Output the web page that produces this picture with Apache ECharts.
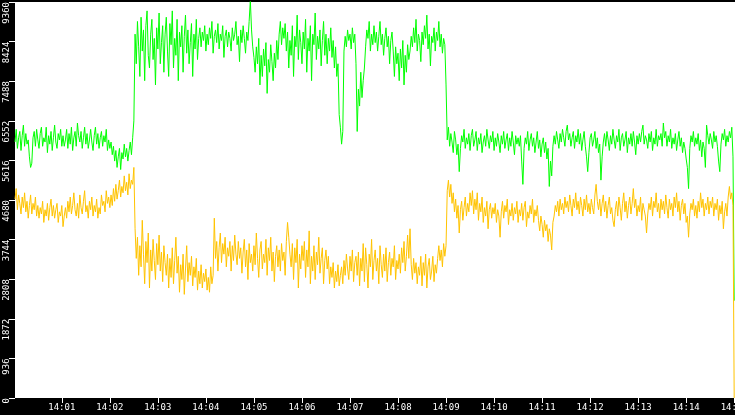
<!DOCTYPE html>
<html>
<head>
<meta charset="utf-8">
<title>chart</title>
<script src="https://cdn.jsdelivr.net/npm/echarts@6.0.0/dist/echarts.min.js"></script>
<style>
    html, body {margin: 0; padding: 0; background: #000;}
    #container {width: 735px; height: 415px;}
</style>
</head>
<body>
<div id="container"></div>
<script>
// seconds after 14:00:00 between two samples
var sampleStep = 1.5;

// y axis ticks
var yTickValues = [0, 936, 1872, 2808, 3744, 4680, 5616, 6552, 7488, 8424, 9360];

// x axis ticks (seconds after 14:00:00) and their labels
var xTickSeconds = [60, 120, 180, 240, 300, 360, 420, 480, 540, 600, 660, 720, 780, 840, 900];
var xTickLabels = ['14:01', '14:02', '14:03', '14:04', '14:05', '14:06', '14:07', '14:08',
    '14:09', '14:10', '14:11', '14:12', '14:13', '14:14', '14:15'];

// green series
var greenValues = [
    6050, 6350, 5900, 6150, 6300, 5850, 6200, 6450, 5950, 6250, 6000, 6100, 5700, 5450, 5550, 6150, 6300, 5950, 6350, 6100,
    5900, 6250, 6400, 5950, 6150, 6050, 6400, 5800, 6200, 6000, 6300, 5850, 6150, 6450, 6050, 5900, 6250, 6100, 6350, 5950,
    6200, 5950, 6100, 6350, 5900, 6250, 6000, 6400, 5850, 6150, 6300, 5950, 6500, 6200, 6050, 6300, 5900, 6150, 6400, 6000,
    6250, 5900, 6100, 6350, 6050, 5850, 6200, 6400, 6000, 6250, 5900, 6150, 6300, 5950, 6200, 6050, 6350, 5850, 6100, 5900,
    6050, 5750, 5950, 5600, 5850, 5450, 5700, 5900, 5400, 5800, 5650, 6000, 5700, 5900, 5600, 5850, 6050, 5750, 6150, 6550,

    8600, 7900, 8900, 8300, 7600, 9000, 8200, 8700, 7500, 8800, 9150, 8100, 7800, 8600, 8950, 8000, 8500, 7400, 8750, 8250,
    9100, 7900, 8400, 8800, 7700, 8600, 9000, 8200, 7600, 8850, 8350, 9150, 7800, 8500, 8100, 8950, 7500, 8650, 8300, 8800,
    7700, 8550, 9050, 8150, 8700, 7900, 8400, 8850, 7600, 8600, 8250, 8950, 8000, 8500, 8750, 8300, 8650, 8450, 8800, 8200,
    8600, 8350, 8750, 8500, 8900, 8150, 8550, 8700, 8400, 8850, 8250, 8600, 8450, 8800, 8050, 8550, 8700, 8300, 8650, 8500,
    8200, 8750, 8450, 8600, 8900, 8350, 8550, 7950, 8700, 8400, 8800, 8500, 8150, 8650, 8450, 8900, 9400, 8700, 8300, 8050,
    7700, 8300, 7900, 8500, 7400, 8100, 7600, 8250, 7850, 8400, 7200, 8000, 7700, 8350, 7950, 7500, 8150, 7800, 8450, 8000,
    8600, 8900, 8350, 8750, 8500, 8850, 8200, 8650, 7800, 8450, 8100, 8800, 7600, 8550, 8300, 9050, 8000, 8700, 8400, 7900,
    8650, 8250, 8950, 7700, 8500, 8200, 8800, 7500, 8600, 8350, 9100, 8000, 8550, 8250, 8700, 7850, 8450, 8900, 8100, 8600,
    7900, 8500, 8200, 8750, 8050, 8450, 7800, 8300, 7600, 7900, 6700, 6400, 6000, 6300, 8200, 8550, 8300, 8700, 8450, 8600,
    8250, 8750, 8400, 8600, 7900, 6300, 7300, 6900, 7700, 7100, 7500, 7800, 8300, 8700, 8500, 8900, 8200, 8600, 8350, 8800,
    8400, 8650, 8200, 8550, 8900, 8350, 8600, 8100, 8500, 8750, 8300, 8550, 7900, 8450, 8650, 8200, 7600, 8300, 7900, 8150,
    7500, 8250, 7800, 8450, 7400, 8100, 7700, 8350, 8000, 8200, 8550, 8300, 8750, 8400, 8950, 8200, 8600, 8450, 7950, 8650,
    8350, 8800, 8500, 9050, 8250, 8600, 7850, 8550, 8400, 8750, 8200, 8650, 8450, 8900, 8300, 8600, 8150, 8500, 8350, 7400,

    6100, 6400, 5950, 6250, 6050, 5800, 6300, 6100, 5750, 6000, 5350, 5900, 6200, 6050, 6350, 5900, 6150, 6000, 6250, 5850,
    6200, 6350, 5950, 6100, 6300, 5850, 6150, 6000, 6250, 5800, 6050, 6200, 5950, 6350, 6100, 5900, 6200, 6050, 6300, 5850,
    6150, 5950, 6250, 6050, 5800, 6200, 6000, 6300, 5900, 6100, 6250, 5850, 6150, 5950, 6300, 6050, 5750, 6200, 6000, 6150,
    5950, 6200, 5600, 5050, 5900, 6150, 6000, 6300, 5850, 6100, 6250, 5950, 6150, 5800, 6050, 6300, 5900, 6100, 5700, 6000,
    6150, 5800, 6050, 5650, 5900, 5000, 5600, 5250, 5950, 6200, 6000, 6300, 6100, 5900, 6250, 6050, 6350, 6150, 5950, 6300,
    6450, 6100, 6250, 5950, 6150, 6300, 5900, 6200, 6050, 6350, 6000, 6250, 5850, 6100, 6300, 5950, 5700, 5350, 5800, 6150,
    6250, 5950, 6100, 6300, 5900, 6150, 5800, 6000, 5150, 5700, 6050, 6250, 5950, 6300, 6100, 5850, 6200, 6000, 6350, 6100,
    5900, 6200, 6050, 6350, 5850, 6150, 6250, 5950, 6100, 6300, 5800, 6150, 6000, 6250, 5950, 6300, 6050, 5750, 6200, 6000,
    6250, 6050, 6300, 6450, 6000, 6200, 6100, 5900, 6250, 6050, 6300, 5850, 6150, 6000, 6350, 5950, 6200, 6100, 6250, 5950,
    6500, 6150, 6300, 5950, 6200, 6050, 6350, 5900, 6150, 6000, 6250, 5850, 6100, 6300, 5950, 6150, 5800, 6050, 5900, 5650,
    5450, 4950, 5900, 6200, 6050, 6300, 5950, 6150, 6000, 6250, 5850, 6100, 5700, 6050, 5900, 5450, 6450, 6200, 6000, 6250,
    6100, 5900, 6300, 6050, 6200, 5950, 5600, 5350, 6000, 6250, 6100, 6350, 5950, 6200, 6050, 6300, 6150, 6400, 5700, 2300
];

// yellow series
var yellowValues = [
    4700, 4950, 4450, 4800, 4600, 4350, 4750, 4500, 4850, 4400, 4650, 4250, 4550, 4800, 4350, 4600, 4450, 4750, 4300, 4550,
    4250, 4500, 4350, 4650, 4150, 4450, 4300, 4600, 4200, 4500, 4700, 4300, 4550, 4250, 4450, 4600, 4150, 4400, 4300, 4550,
    4050, 4300, 4500, 4250, 4650, 4400, 4750, 4350, 4550, 4850, 4450, 4300, 4600, 4250, 4800, 4500, 4350, 4650, 4900, 4400,
    4550, 4250, 4650, 4450, 4750, 4300, 4550, 4400, 4700, 4250, 4500, 4350, 4800, 4550, 4650, 4400, 4900, 4600, 4750, 4500,
    4800, 4550, 4950, 4650, 5050, 4700, 4900, 5150, 4750, 5000, 4850, 5250, 4900, 5100, 4800, 5300, 4950, 5150, 5050, 5450,

    4000, 3300, 3800, 2900, 3600, 3100, 4200, 3400, 2700, 3700, 3200, 3900, 2600, 3500, 3000, 3750, 3250, 2800, 3650, 3150,
    3850, 3000, 3450, 2750, 3600, 3200, 2900, 3400, 2600, 3300, 2850, 3550, 2700, 3250, 3800, 2950, 3350, 2500, 3150, 2800,
    3400, 2450, 3050, 3600, 2750, 3200, 2900, 3350, 2650, 3100, 2850, 3300, 2550, 3000, 2700, 3150, 2600, 2950, 2750, 3050,
    2550, 2850, 2500, 3100, 2700, 2900, 4250, 3300, 3700, 3000, 3550, 3900, 3200, 3650, 3400, 3800, 3100, 3550, 3350, 3700,
    3000, 3600, 3250, 3850, 3400, 3150, 3700, 3300, 3550, 2950, 3450, 3750, 3100, 3500, 2800, 3650, 3200, 3400, 3000, 3600,
    3150, 3900, 3300, 2850, 3500, 3700, 3050, 3400, 3200, 3750, 2900, 3550, 3250, 3800, 3000, 3450, 2750, 3350, 3600, 3100,
    3500, 3000, 3650, 3250, 3450, 2900, 3700, 4150, 3800, 3400, 3100, 3650, 2800, 3550, 3200, 3750, 2600, 3400, 3050, 3600,
    3250, 3700, 2850, 3500, 3100, 3950, 2700, 3350, 3000, 3600, 2800, 3450, 3150, 3800, 2950, 3300, 3550, 2700, 3250, 3500,
    3050, 3350, 2700, 3100, 2850, 3200, 2600, 3000, 2750, 3150, 2650, 2900, 3100, 2700, 3250, 2900, 3400, 3050, 2800, 3350,
    3000, 3500, 2750, 3200, 3350, 2900, 3450, 2650, 3300, 3000, 3650, 2750, 3550, 3150, 2600, 3400, 3100, 3750, 2800, 3250,
    3500, 3000, 3300, 2700, 3600, 3150, 2850, 3400, 3000, 3550, 2750, 3200, 3450, 2900, 3300, 3100, 3600, 2800, 3250, 3050,
    3400, 2950, 3550, 3200, 3700, 3000, 3350, 3850, 3300, 4000, 3150, 2800, 3300, 2950, 3200, 2700, 3100, 2900, 3350, 2650,
    3200, 2900, 3400, 2600, 3100, 3300, 2800, 3000, 3350, 2750, 3150, 2950, 3300, 3600, 3250, 3500, 3100, 3650, 3350, 3600,

    4900, 5150, 4750, 5050, 4600, 4850, 4400, 4700, 4250, 4550, 3900, 4450, 4650, 4200, 4500, 4750, 4300, 4600, 4400, 4850,
    4550, 4900, 4350, 4700, 4450, 4850, 4200, 4600, 4400, 4750, 4150, 4500, 4300, 4650, 4000, 4450, 4600, 4250, 4500, 4350,
    4600, 4150, 4450, 4300, 3800, 4400, 4650, 4250, 4550, 4400, 4700, 4100, 4450, 4300, 4600, 4200, 4500, 4350, 4650, 4150,
    4450, 4300, 4600, 4200, 4500, 4650, 4050, 4400, 4250, 4550, 4350, 4700, 4150, 4450, 4300, 4550, 4200, 3950, 4300, 4100,
    3800, 4200, 3950, 4100, 3700, 4000, 3850, 3500, 4150, 4300, 4550, 4400, 4650, 4300, 4700, 4450, 4600, 4350, 4750, 4500,
    4650, 4400, 4800, 4550, 4300, 4700, 4500, 4850, 4450, 4650, 4350, 4750, 4550, 4300, 4700, 4450, 4800, 4400, 4600, 4350,
    4700, 4500, 4350, 4800, 5050, 4650, 4450, 4700, 4300, 4600, 4800, 4400, 4650, 4250, 4550, 4750, 4350, 4500, 4200, 4050,
    4450, 4650, 4300, 4750, 4500, 4200, 4600, 4850, 4400, 4650, 4250, 4550, 4750, 4350, 4600, 4950, 4500, 4700, 4300, 4550,
    4400, 4750, 4200, 4600, 4450, 4300, 3900, 4350, 4600, 4450, 4750, 4300, 4650, 4500, 4850, 4400, 4600, 4250, 4700, 4450,
    4650, 4350, 4800, 4500, 4250, 4700, 4450, 4600, 4300, 4750, 4500, 4850, 4400, 4650, 4200, 4550, 4700, 4350, 4600, 4150,
    4300, 3800, 4350, 4600, 4450, 4700, 4300, 4550, 4250, 4650, 4400, 4850, 4500, 4700, 4300, 4600, 4450, 4750, 4350, 4650,
    4500, 4750, 4300, 4600, 4450, 4700, 4200, 4550, 4350, 4650, 4000, 4400, 4600, 4300, 4750, 5000, 4700, 4850, 4550, 0
];

function toPairs(values) {
    var pairs = new Array();
    for (var i = 0; i < values.length; i++) {
        pairs.push([sampleStep * (i + 1), values[i]]);
    }
    return pairs;
}

function initChart(echarts) {
    var myChart = echarts.init(document.getElementById('container'), null, {renderer: 'canvas'});
    var labelFont = {
        color: '#fff',
        fontFamily: 'DejaVu Sans Mono',
        fontSize: 9
    };
    var option = {
        animation: false,
        backgroundColor: '#000',
        grid: {
            show: true,
            left: 15,
            right: 0,
            top: 2,
            bottom: 17,
            outerBoundsMode: 'none',
            containLabel: false,
            backgroundColor: '#fff',
            borderWidth: 0
        },
        xAxis: {
            type: 'value',
            min: 1.5,
            max: 901,
            splitLine: {show: false},
            axisLine: {show: false},
            axisTick: {
                show: true,
                length: 5,
                lineStyle: {color: '#fff', width: 1},
                customValues: xTickSeconds
            },
            axisLabel: {
                color: labelFont.color,
                fontFamily: labelFont.fontFamily,
                fontSize: labelFont.fontSize,
                margin: 5,
                hideOverlap: false,
                customValues: xTickSeconds,
                formatter: function (value) {
                    var idx = xTickSeconds.indexOf(value);
                    return idx >= 0 ? xTickLabels[idx] : '';
                }
            }
        },
        yAxis: {
            type: 'value',
            min: yTickValues[0],
            max: yTickValues[yTickValues.length - 1],
            interval: yTickValues[1] - yTickValues[0],
            splitLine: {show: false},
            axisLine: {show: false},
            axisTick: {
                show: true,
                length: 6,
                lineStyle: {color: '#fff', width: 1}
            },
            axisLabel: {
                color: labelFont.color,
                fontFamily: labelFont.fontFamily,
                fontSize: labelFont.fontSize,
                rotate: 90,
                align: 'right',
                verticalAlign: 'bottom',
                margin: 4,
                formatter: function (value) {
                    return String(value);
                }
            }
        },
        series: [
            {
                name: 'green',
                type: 'line',
                showSymbol: false,
                sampling: null,
                lineStyle: {color: '#00ff00', width: 1},
                itemStyle: {color: '#00ff00'},
                data: toPairs(greenValues)
            },
            {
                name: 'yellow',
                type: 'line',
                showSymbol: false,
                lineStyle: {color: '#ffc300', width: 1},
                itemStyle: {color: '#ffc300'},
                data: toPairs(yellowValues)
            }
        ]
    };
    myChart.setOption(option);
}

initChart(echarts);
</script>
</body>
</html>
